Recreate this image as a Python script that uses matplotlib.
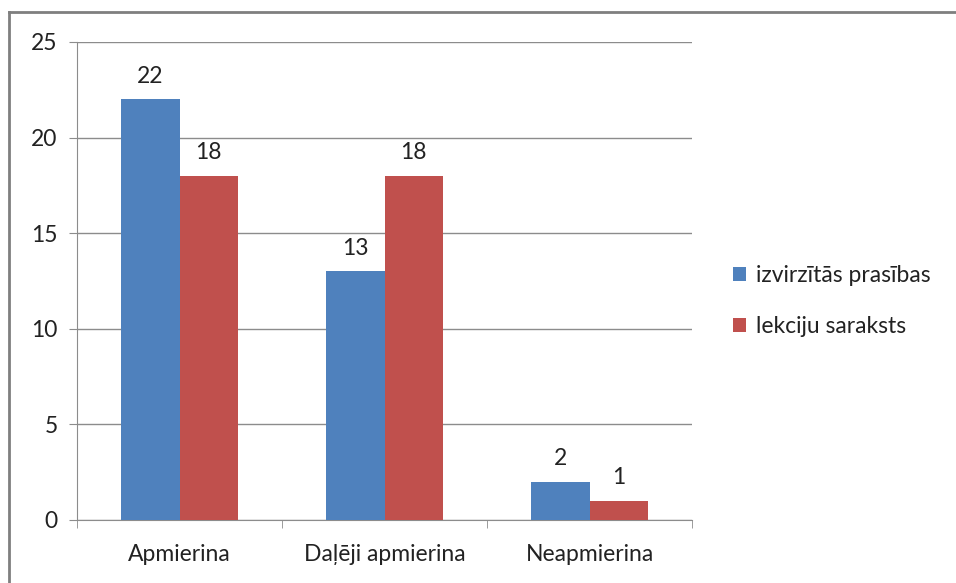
import matplotlib
matplotlib.use("Agg")
import matplotlib.pyplot as plt
import numpy as np

categories = ["Apmierina", "Daļēji apmierina", "Neapmierina"]
series_names = ["izvirzītās prasības", "lekciju saraksts"]
izvirzitas = [22, 13, 2]
lekciju = [18, 18, 1]
colors = ["#4F81BD", "#C0504D"]
yticks = [0, 5, 10, 15, 20, 25]

plt.rcParams['font.family'] = ['Lato', 'DejaVu Sans']
FS = 16.5
TC = "#222222"

fig = plt.figure(figsize=(9.56, 5.83), dpi=100)
ax = fig.add_axes([77/956, 1-520/583, (692-77)/956, (520-42)/583])

x = np.arange(len(categories))
w = 1/3.5
b1 = ax.bar(x - w/2, izvirzitas, w, color=colors[0], label=series_names[0], zorder=3)
b2 = ax.bar(x + w/2, lekciju, w, color=colors[1], label=series_names[1], zorder=3)
for bars in (b1, b2):
    for r in bars:
        ax.annotate(f"{int(r.get_height())}", (r.get_x()+r.get_width()/2, r.get_height()),
                    xytext=(0, 9), textcoords="offset points", ha="center", va="bottom",
                    fontsize=FS, color=TC)

ax.set_xlim(-0.5, 2.5)
ax.set_ylim(0, 25)
ax.set_yticks(yticks)
ax.set_yticklabels([str(t) for t in yticks], fontsize=FS, color=TC)
ax.yaxis.grid(True, color="#8c8c8c", linewidth=1, zorder=0)
ax.set_xticks(x)
ax.set_xticklabels(categories, fontsize=FS, color=TC)
ax.set_xticks([-0.5, 0.5, 1.5, 2.5], minor=True)
ax.tick_params(axis='x', which='major', length=0, pad=17)
ax.tick_params(axis='x', which='minor', length=6, color="#8c8c8c")
ax.tick_params(axis='y', length=6, color="#8c8c8c", pad=8)
for s in ["top", "right"]:
    ax.spines[s].set_visible(False)
ax.spines["left"].set_color("#8c8c8c")
ax.spines["bottom"].set_color("#8c8c8c")

leg = ax.legend(loc="center left", bbox_to_anchor=(712/956, 1-301/583), bbox_transform=fig.transFigure,
                frameon=False, fontsize=FS, handlelength=0.6, handleheight=0.6, labelspacing=1.3,
                handletextpad=0.4)
for t in leg.get_texts():
    t.set_color(TC)

# outer border (left and top visible)
fig.add_artist(plt.Line2D([9/956, 9/956], [0, 1-12/583], transform=fig.transFigure, color="#7f7f7f", linewidth=2))
fig.add_artist(plt.Line2D([9/956, 1.01], [1-12/583, 1-12/583], transform=fig.transFigure, color="#7f7f7f", linewidth=2))

fig.savefig("out.png", dpi=100)
